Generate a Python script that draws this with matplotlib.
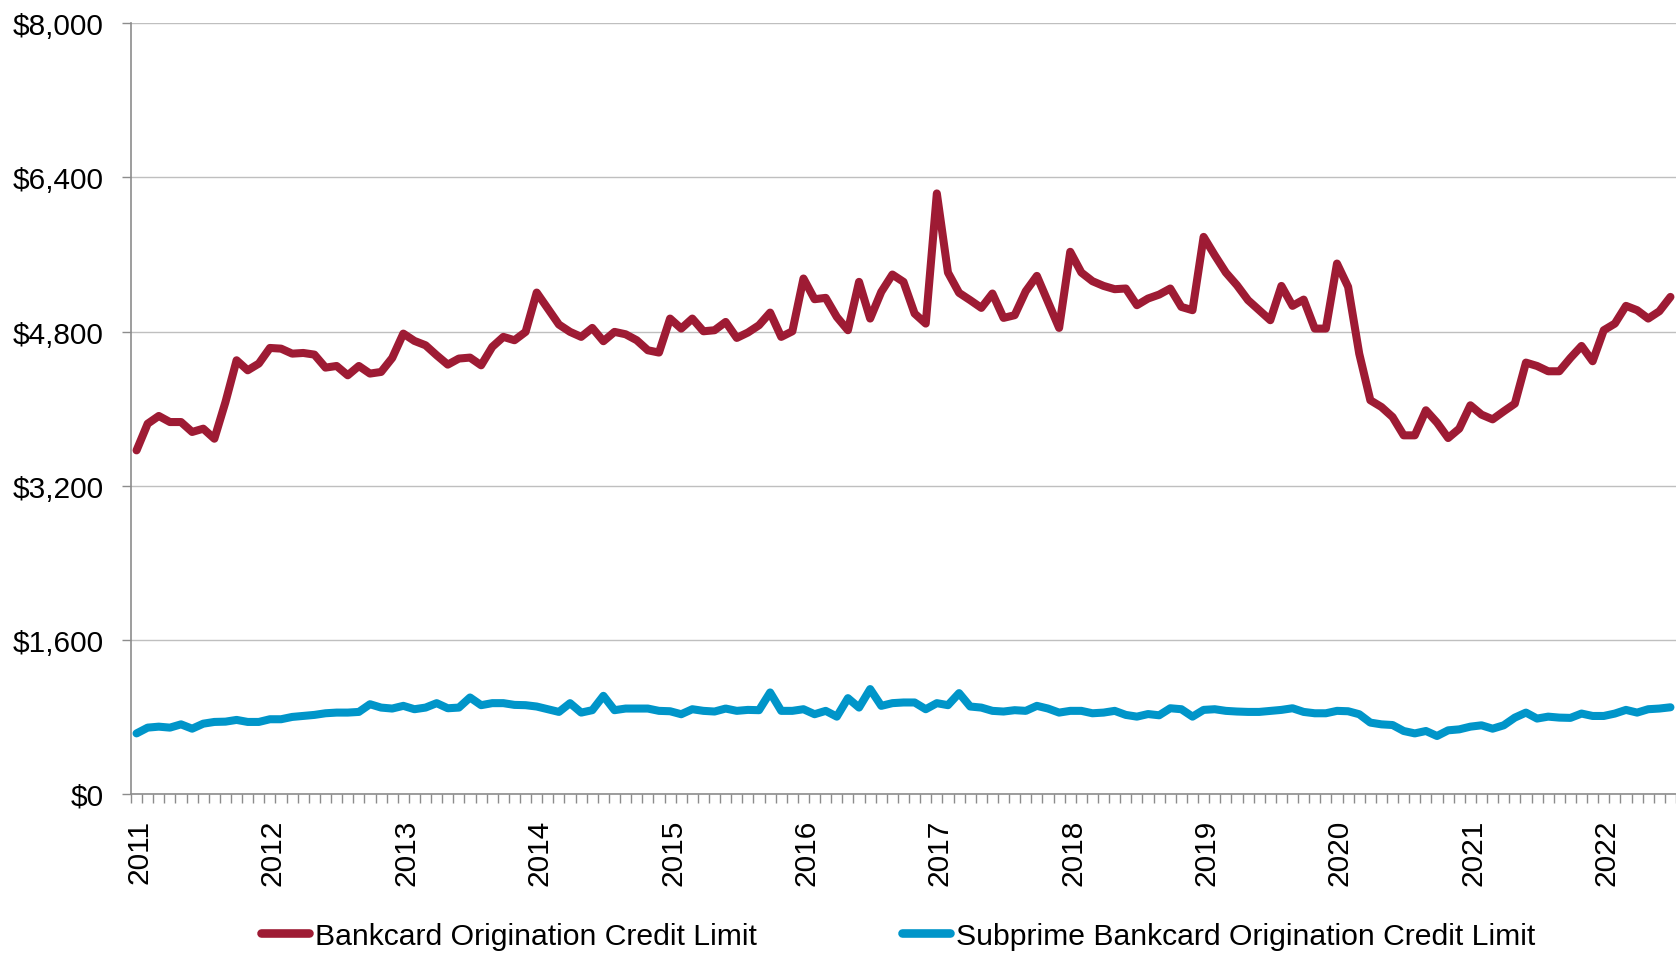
import matplotlib
matplotlib.use("Agg")
import matplotlib.pyplot as plt
import matplotlib.ticker as mticker
import matplotlib.transforms as mtransforms
from matplotlib.lines import Line2D
import pandas as pd

plt.rcParams['font.family'] = ['Liberation Sans', 'DejaVu Sans']

# ---- data (monthly, Jan 2011 - Jul 2022) ----
months = [p.strftime('%Y-%m') for p in pd.date_range('2011-01-01', periods=139, freq='MS')]

bankcard = [
    3567, 3844, 3924, 3861, 3861, 3758, 3792, 3688, 4069, 4502, 4398, 4468,
    4630, 4623, 4571, 4578, 4561, 4426, 4443, 4346, 4443, 4364, 4381, 4526,
    4779, 4703, 4658, 4554, 4457, 4520, 4530, 4450, 4641, 4745, 4710, 4797,
    5205, 5039, 4873, 4797, 4745, 4838, 4700, 4797, 4772, 4710, 4606, 4582,
    4935, 4831, 4935, 4803, 4814, 4900, 4734, 4790, 4866, 4997, 4745, 4803,
    5351, 5136, 5150, 4952, 4814, 5316, 4935, 5212, 5392, 5316, 4987, 4883,
    6234, 5413, 5202, 5126, 5046, 5195, 4942, 4970, 5219, 5378, 5108, 4838,
    5628, 5413, 5323, 5274, 5240, 5247, 5074, 5143, 5184, 5247, 5056, 5022,
    5783, 5593, 5413, 5281, 5126, 5022, 4918, 5274, 5067, 5132, 4831, 4831,
    5506, 5264, 4571, 4087, 4017, 3913, 3723, 3723, 3983, 3855, 3695, 3792,
    4035, 3938, 3889, 3972, 4052, 4478, 4443, 4388, 4388, 4526, 4651, 4492,
    4814, 4883, 5067, 5022, 4935, 5011, 5160,
]

subprime = [
    629, 689, 699, 689, 723, 678, 730, 748, 751, 769, 748, 748,
    776, 776, 800, 810, 821, 838, 845, 845, 852, 932, 897, 887,
    915, 880, 897, 943, 890, 897, 1002, 922, 943, 943, 925, 922,
    908, 880, 852, 943, 845, 870, 1019, 870, 887, 887, 887, 863,
    859, 828, 880, 863, 856, 887, 863, 873, 870, 1054, 863, 863,
    880, 828, 863, 803, 995, 897, 1089, 915, 943, 950, 950, 880,
    943, 922, 1047, 908, 897, 863, 856, 870, 863, 915, 887, 845,
    863, 863, 838, 845, 863, 821, 803, 830, 817, 890, 880, 803,
    873, 880, 863, 856, 852, 852, 863, 873, 890, 852, 838, 838,
    863, 859, 828, 741, 723, 716, 654, 629, 654, 602, 661, 671,
    699, 713, 678, 713, 793, 845, 783, 803, 793, 790, 835, 810,
    810, 835, 873, 845, 880, 887, 900,
]

year_labels = ['2011', '2012', '2013', '2014', '2015', '2016', '2017',
               '2018', '2019', '2020', '2021', '2022']
series_names = ['Bankcard Origination Credit Limit',
                'Subprime Bankcard Origination Credit Limit']
y_ticks = [0, 1600, 3200, 4800, 6400, 8000]

assert len(bankcard) == len(months) == len(subprime)

RED = '#9E1B34'
BLUE = '#0095C9'
GRID = '#BFBFBF'
AXIS = '#8C8C8C'
FS = 21.5

fig = plt.figure(figsize=(16.76, 9.54), dpi=100)
ax = fig.add_axes([131 / 1676, 1 - 795 / 954, 1 - 131 / 1676, (795 - 24.3) / 954])

x = list(range(len(months)))
ax.plot(x, bankcard, color=RED, lw=5.8, solid_joinstyle='round', solid_capstyle='round', zorder=3)
ax.plot(x, subprime, color=BLUE, lw=5.8, solid_joinstyle='round', solid_capstyle='round', zorder=3)

ax.set_ylim(0, 8000)
ax.set_xlim(-0.5, 137.7)

ax.set_yticks(y_ticks)
ax.yaxis.set_major_formatter(mticker.FuncFormatter(lambda v, p: '${:,.0f}'.format(v)))
ax.grid(axis='y', color=GRID, lw=1.0, zorder=0)
ax.set_axisbelow(True)

# x: labels at each January, ticks at month boundaries
label_pos = [months.index(y + '-01') for y in year_labels]
ax.set_xticks(label_pos)
ax.set_xticklabels(year_labels, rotation=90, fontsize=FS)
ax.set_xticks([i - 0.5 for i in range(len(months) + 1)], minor=True)
ax.tick_params(axis='x', which='major', length=0, pad=18)
ax.tick_params(axis='x', which='minor', length=6.5, width=1.0, color=AXIS, direction='out')
ax.tick_params(axis='y', which='major', length=6.5, width=1.0, color=AXIS, direction='out',
               labelsize=FS, pad=13)

# centre rotated year labels on their glyphs rather than on the text box
shift = mtransforms.ScaledTranslation(3 / 100, 0, fig.dpi_scale_trans)
for lbl in ax.get_xticklabels():
    lbl.set_transform(lbl.get_transform() + shift)

for s in ['top', 'right']:
    ax.spines[s].set_visible(False)
for s in ['left', 'bottom']:
    ax.spines[s].set_color(AXIS)
    ax.spines[s].set_linewidth(1.2)

handles = [Line2D([0], [0], color=RED, lw=6.2, solid_capstyle='round'),
           Line2D([0], [0], color=BLUE, lw=6.2, solid_capstyle='round')]
fig.legend(handles, series_names, loc='center', bbox_to_anchor=(898 / 1676, 1 - 937 / 954),
           ncol=2, frameon=False, fontsize=21.7, handlelength=1.6, handletextpad=0.2,
           columnspacing=4.8, borderpad=0, borderaxespad=0)

fig.savefig('out.png', dpi=100)
